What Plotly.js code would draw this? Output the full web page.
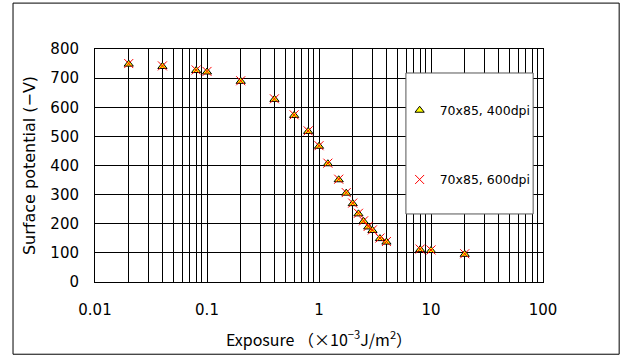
<!DOCTYPE html>
<html>
<head>
<meta charset="utf-8">
<script src="https://cdn.plot.ly/plotly-3.0.1.min.js"></script>
<style>
  html, body { margin: 0; padding: 0; background: #fff; }
  #chart { width: 623px; height: 358px; }
</style>
</head>
<body>
<div id="chart"></div>
<script>
// Exposure (×10^-3 J/m^2) and surface potential (−V) for two resolutions
var exposure400 = [0.02, 0.04, 0.08, 0.1, 0.2, 0.4, 0.6, 0.8, 1.0, 1.2, 1.5, 1.75, 2.0, 2.25, 2.5, 2.75, 3.0, 3.5, 4.0, 8, 10, 20];
var potential400 = [748, 740, 726, 721, 689, 627, 572, 517, 466, 406, 351, 305, 269, 234, 208, 189, 177, 149, 137, 111, 108, 95];

var exposure600 = [0.02, 0.04, 0.08, 0.1, 0.2, 0.4, 0.6, 0.8, 1.0, 1.2, 1.5, 1.75, 2.0, 2.25, 2.5, 2.75, 3.0, 3.5, 4.0, 8, 10, 20];
var potential600 = [750, 742, 728, 723, 691, 629, 574, 519, 468, 408, 353, 307, 271, 236, 210, 191, 179, 151, 139, 113, 110, 97];

var seriesNames = ['70x85, 400dpi', '70x85, 600dpi'];

// Log axis: gridlines at every 1..9 multiple, labels only on decades
var decadeValues = [0.01, 0.1, 1, 10, 100];
var decadeLabels = ['0.01', '0.1', '1', '10', '100'];

var xTickVals = [], xTickText = [];
for (var d = 0; d < decadeValues.length; d++) {
  var base = decadeValues[d];
  var steps = (d === decadeValues.length - 1) ? 1 : 9;
  for (var k = 1; k <= steps; k++) {
    xTickVals.push(base * k);
    xTickText.push(k === 1 ? decadeLabels[d] : '');
  }
}

var FONT = 'DejaVu Sans, "Noto Sans CJK JP", sans-serif';
var CJK_FONT = '"Noto Sans CJK JP", DejaVu Sans, sans-serif';

var traces = [
  {
    x: exposure400, y: potential400, name: seriesNames[0],
    type: 'scatter', mode: 'markers', legendgroup: 'a',
    marker: { symbol: 'triangle-up', size: 8, color: '#FFFF00', line: { color: '#000', width: 1 } }
  },
  {
    x: exposure600, y: potential600, name: seriesNames[1],
    type: 'scatter', mode: 'markers', legendgroup: 'b',
    marker: { symbol: 'x-thin', size: 9, color: '#FF0000', line: { color: '#FF0000', width: 1 } }
  }
];

var layout = {
  width: 623, height: 358,
  margin: { l: 95, r: 80, t: 49, b: 76 },
  paper_bgcolor: '#fff', plot_bgcolor: '#fff',
  font: { family: FONT, size: 15, color: '#000' },
  showlegend: true,
  legend: {
    x: 0.68, y: 0.80, xanchor: 'left', yanchor: 'top',
    bgcolor: 'rgba(0,0,0,0)', borderwidth: 0,
    traceorder: 'grouped', tracegroupgap: 50,
    font: { family: FONT, size: 12.5, color: '#000' }
  },
  xaxis: {
    type: 'log', range: [-2, 2],
    tickmode: 'array', tickvals: xTickVals, ticktext: xTickText,
    showgrid: true, gridcolor: '#000', gridwidth: 1,
    showline: true, linecolor: '#000', linewidth: 1, mirror: true,
    ticks: 'outside', ticklen: 14, tickcolor: 'rgba(0,0,0,0)',
    tickfont: { family: FONT, size: 15 },
    zeroline: false,
    title: { text: 'Exposure （×10<sup>−3</sup>J/m<sup>2</sup>）', font: { family: CJK_FONT, size: 16 }, standoff: 16 }
  },
  yaxis: {
    range: [0, 800], dtick: 100, tick0: 0,
    showgrid: true, gridcolor: '#000', gridwidth: 1,
    showline: true, linecolor: '#000', linewidth: 1, mirror: true,
    ticks: 'outside', ticklen: 12, tickcolor: 'rgba(0,0,0,0)',
    tickfont: { family: FONT, size: 15 },
    zeroline: false,
    title: { text: 'Surface potential (−V)', font: { family: FONT, size: 16 }, standoff: 10 }
  },
  shapes: [
    // legend panel
    { type: 'rect', xref: 'paper', yref: 'paper', x0: 0.694, x1: 0.978, y0: 0.292, y1: 0.897,
      fillcolor: '#fff', line: { color: '#555', width: 1 }, layer: 'above' },
    // outer frame
    { type: 'rect', xref: 'paper', yref: 'paper', x0: -0.183, x1: 1.17, y0: -0.31, y1: 1.197,
      fillcolor: 'rgba(0,0,0,0)', line: { color: '#000', width: 1 }, layer: 'above' }
  ]
};

Plotly.newPlot('chart', traces, layout, { staticPlot: true, displayModeBar: false });
</script>
</body>
</html>
